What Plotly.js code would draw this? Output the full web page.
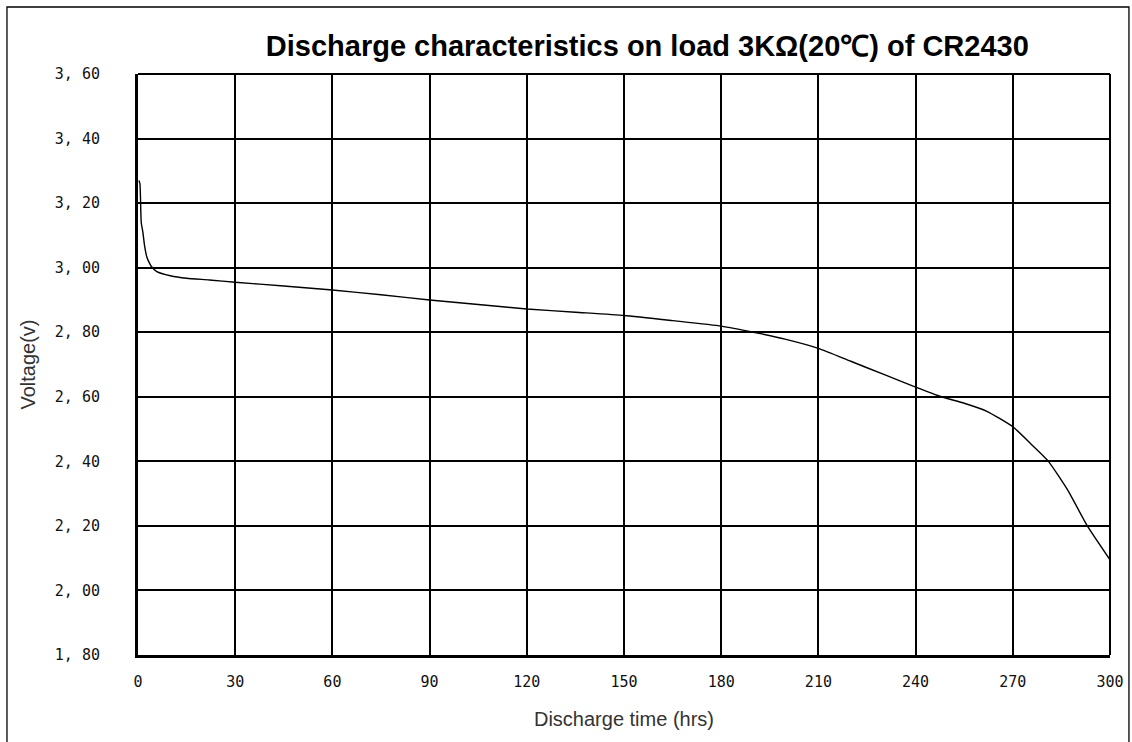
<!DOCTYPE html>
<html>
<head>
<meta charset="utf-8">
<script src="https://cdn.plot.ly/plotly-3.0.1.min.js"></script>
<style>html,body{margin:0;padding:0;background:#fff;}#chart{width:1132px;height:742px;}</style>
</head>
<body>
<div id="chart"></div>
<script>
// Discharge time (hrs)
const hours = [0.3, 0.6, 1.0, 1.5, 2.0, 2.7, 3.5, 4.2, 5.8, 10, 15, 22, 30, 45, 60, 75, 90, 105, 120, 135, 150, 165, 180, 190, 200, 210, 220, 230, 240, 248, 255, 262, 270, 276, 281, 287, 293, 300];
// Voltage (V)
const voltage = [3.27, 3.26, 3.14, 3.11, 3.07, 3.034, 3.015, 3.003, 2.988, 2.975, 2.967, 2.962, 2.955, 2.943, 2.931, 2.916, 2.900, 2.886, 2.872, 2.862, 2.852, 2.836, 2.819, 2.80, 2.778, 2.75, 2.71, 2.67, 2.63, 2.60, 2.58, 2.555, 2.507, 2.45, 2.40, 2.31, 2.20, 2.095];

const xTicks = [0, 30, 60, 90, 120, 150, 180, 210, 240, 270, 300];
const xTickText = ["0", "30", "60", "90", "120", "150", "180", "210", "240", "270", "300"];
const yTicks = [1.8, 2.0, 2.2, 2.4, 2.6, 2.8, 3.0, 3.2, 3.4, 3.6];
const yTickText = ["1, 80", "2, 00", "2, 20", "2, 40", "2, 60", "2, 80", "3, 00", "3, 20", "3, 40", "3, 60"];

const tickFont = {family: "DejaVu Sans Mono", size: 15, color: "#111"};

const trace = {
  x: hours, y: voltage, type: "scatter", mode: "lines",
  line: {color: "#000", width: 1.4, shape: "spline", smoothing: 0.5},
  hoverinfo: "x+y", showlegend: false
};

const layout = {
  width: 1132, height: 742,
  margin: {l: 138, r: 22, t: 74, b: 87},
  paper_bgcolor: "#fff", plot_bgcolor: "#fff",
  title: {
    text: "Discharge characteristics on load 3KΩ(20℃) of CR2430",
    font: {family: "Liberation Sans", size: 29, color: "#000", weight: "bold"},
    x: 0.524, xref: "paper", xanchor: "center",
    y: 0.938, yref: "container", yanchor: "middle"
  },
  xaxis: {
    range: [0, 300], tickvals: xTicks, ticktext: xTickText,
    showgrid: true, gridcolor: "#000", gridwidth: 2,
    showline: true, linecolor: "#000", linewidth: 3,
    zeroline: false, ticks: "", tickfont: tickFont, ticklabelstandoff: 11,
    title: {text: "Discharge time (hrs)", font: {family: "Liberation Sans", size: 20, color: "#333"}, standoff: 22},
    fixedrange: true
  },
  yaxis: {
    range: [1.8, 3.6], tickvals: yTicks, ticktext: yTickText,
    showgrid: true, gridcolor: "#000", gridwidth: 2,
    showline: true, linecolor: "#000", linewidth: 3,
    zeroline: false, ticks: "", tickfont: tickFont, ticklabelstandoff: 32,
    title: {text: "Voltage(v)", font: {family: "Liberation Sans", size: 20, color: "#333"}, standoff: 14},
    fixedrange: true
  },
  shapes: [
    {type: "line", xref: "paper", yref: "paper", x0: 0, x1: 1, y0: 1, y1: 1, line: {color: "#000", width: 2}},
    {type: "line", xref: "paper", yref: "paper", x0: 1, x1: 1, y0: 0, y1: 1, line: {color: "#000", width: 2}},
    {type: "rect", xref: "paper", yref: "paper", x0: -0.1348, x1: 1.0195, y0: -0.16, y1: 1.1153, line: {color: "#000", width: 1.3}}
  ]
};

Plotly.newPlot("chart", [trace], layout, {displayModeBar: false, staticPlot: true});
</script>
</body>
</html>
